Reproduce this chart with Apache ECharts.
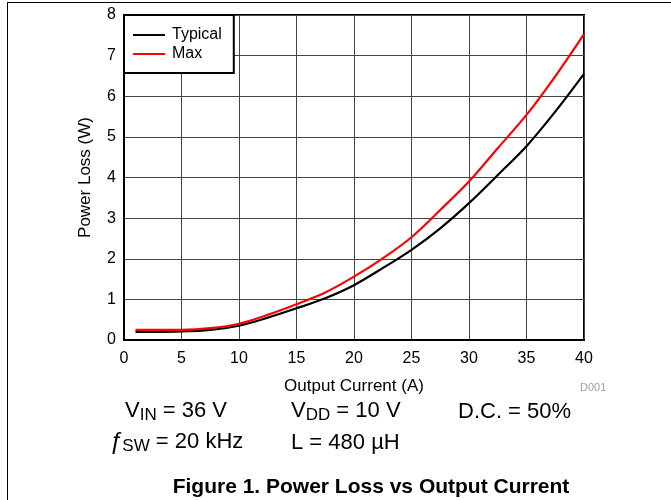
<!DOCTYPE html>
<html>
<head>
<meta charset="utf-8">
<script src="https://cdn.jsdelivr.net/npm/echarts@6/dist/echarts.min.js"></script>
<style>html,body{margin:0;padding:0;background:#fff}#c{width:671px;height:500px}</style>
</head>
<body>
<div id="c"></div>
<script>
const current = [1, 2.5, 5, 7.5, 10, 12.5, 15, 17.5, 20, 22.5, 25, 27.5, 30, 32.5, 35, 37.5, 40];
const typicalLoss = [0.20, 0.20, 0.21, 0.25, 0.35, 0.55, 0.78, 1.03, 1.35, 1.77, 2.22, 2.75, 3.37, 4.06, 4.77, 5.62, 6.55];
const maxLoss = [0.25, 0.25, 0.25, 0.29, 0.40, 0.62, 0.88, 1.17, 1.56, 2.01, 2.53, 3.20, 3.90, 4.72, 5.54, 6.49, 7.53];
const seriesNames = ['Typical', 'Max'];
const xTitle = 'Output Current (A)';
const yTitle = 'Power Loss (W)';

const FONT = '"Liberation Sans", Arial, sans-serif';
const chart = echarts.init(document.getElementById('c'), null, {renderer: 'canvas'});
const pair = (xs, ys) => xs.map((x, i) => [x, ys[i]]);
const subStyle = {fontSize: 17, fontFamily: FONT, fill: '#000', padding: [9, 0, 0, 0], verticalAlign: 'bottom'};

chart.setOption({
  animation: false,
  backgroundColor: '#fff',
  textStyle: {fontFamily: FONT},
  grid: {left: 124, right: 87, top: 15, bottom: 160, show: true, borderColor: '#000', borderWidth: 2, containLabel: false},
  legend: {
    left: 124, top: 15, orient: 'vertical',
    backgroundColor: '#fff', borderColor: '#000', borderWidth: 2, borderRadius: 0,
    padding: [12, 12, 11, 9], itemGap: 3, itemWidth: 32, itemHeight: 2, icon: 'rect',
    textStyle: {fontSize: 16, color: '#000', fontFamily: FONT, padding: [0, 0, 0, 2]},
    data: seriesNames
  },
  xAxis: {
    type: 'value', min: 0, max: 40, interval: 5,
    name: xTitle, nameLocation: 'middle', nameGap: 38,
    nameTextStyle: {fontSize: 17, color: '#000', fontFamily: FONT},
    axisLine: {show: true, lineStyle: {color: '#000', width: 2}},
    axisTick: {show: false},
    axisLabel: {fontSize: 16, color: '#000', margin: 11, fontFamily: FONT},
    splitLine: {show: true, lineStyle: {color: '#444', width: 1}}
  },
  yAxis: {
    type: 'value', min: 0, max: 8, interval: 1,
    name: yTitle, nameLocation: 'middle', nameGap: 30, nameRotate: 90,
    nameTextStyle: {fontSize: 17, color: '#000', fontFamily: FONT},
    axisLine: {show: true, lineStyle: {color: '#000', width: 2}},
    axisTick: {show: false},
    axisLabel: {fontSize: 16, color: '#000', margin: 8, fontFamily: FONT},
    splitLine: {show: true, lineStyle: {color: '#444', width: 1}}
  },
  series: [
    {name: seriesNames[0], type: 'line', data: pair(current, typicalLoss), showSymbol: false, symbol: 'none',
     smooth: 0.3, lineStyle: {color: '#000', width: 2.2}, itemStyle: {color: '#000'}, z: 3},
    {name: seriesNames[1], type: 'line', data: pair(current, maxLoss), showSymbol: false, symbol: 'none',
     smooth: 0.3, lineStyle: {color: '#ff0000', width: 2.2}, itemStyle: {color: '#ff0000'}, z: 4}
  ],
  graphic: [
    {type: 'line', shape: {x1: 7, y1: 2.5, x2: 671, y2: 2.5}, style: {stroke: '#000', lineWidth: 1}, silent: true},
    {type: 'line', shape: {x1: 7.5, y1: 2, x2: 7.5, y2: 500}, style: {stroke: '#000', lineWidth: 1}, silent: true},
    {type: 'text', x: 580, y: 382, style: {text: 'D001', fontSize: 11, fill: '#a0a0a0', fontFamily: FONT}},
    {type: 'text', x: 125, y: 398, style: {
      text: 'V{sub|IN} = 36 V', fontSize: 22, fill: '#000', fontFamily: FONT, rich: {sub: subStyle}}},
    {type: 'text', x: 291, y: 398, style: {
      text: 'V{sub|DD} = 10 V', fontSize: 22, fill: '#000', fontFamily: FONT, rich: {sub: subStyle}}},
    {type: 'text', x: 458, y: 401, style: {text: 'D.C. = 50%', fontSize: 22, fill: '#000', fontFamily: FONT}},
    {type: 'text', x: 109, y: 429, style: {
      text: '{f|ƒ}{sub|SW} = 20 kHz', fontSize: 22, fill: '#000', fontFamily: FONT,
      rich: {
        f: {fontSize: 24, fontStyle: 'italic', fontFamily: FONT, fill: '#000'},
        sub: subStyle}}},
    {type: 'text', x: 291, y: 432, style: {text: 'L = 480 µH', fontSize: 22, fill: '#000', fontFamily: FONT}},
    {type: 'text', x: 371, y: 477, style: {text: 'Figure 1. Power Loss vs Output Current', fontSize: 21, fontWeight: 'bold', fill: '#000', fontFamily: FONT, textAlign: 'center'}}
  ]
});
</script>
</body>
</html>
